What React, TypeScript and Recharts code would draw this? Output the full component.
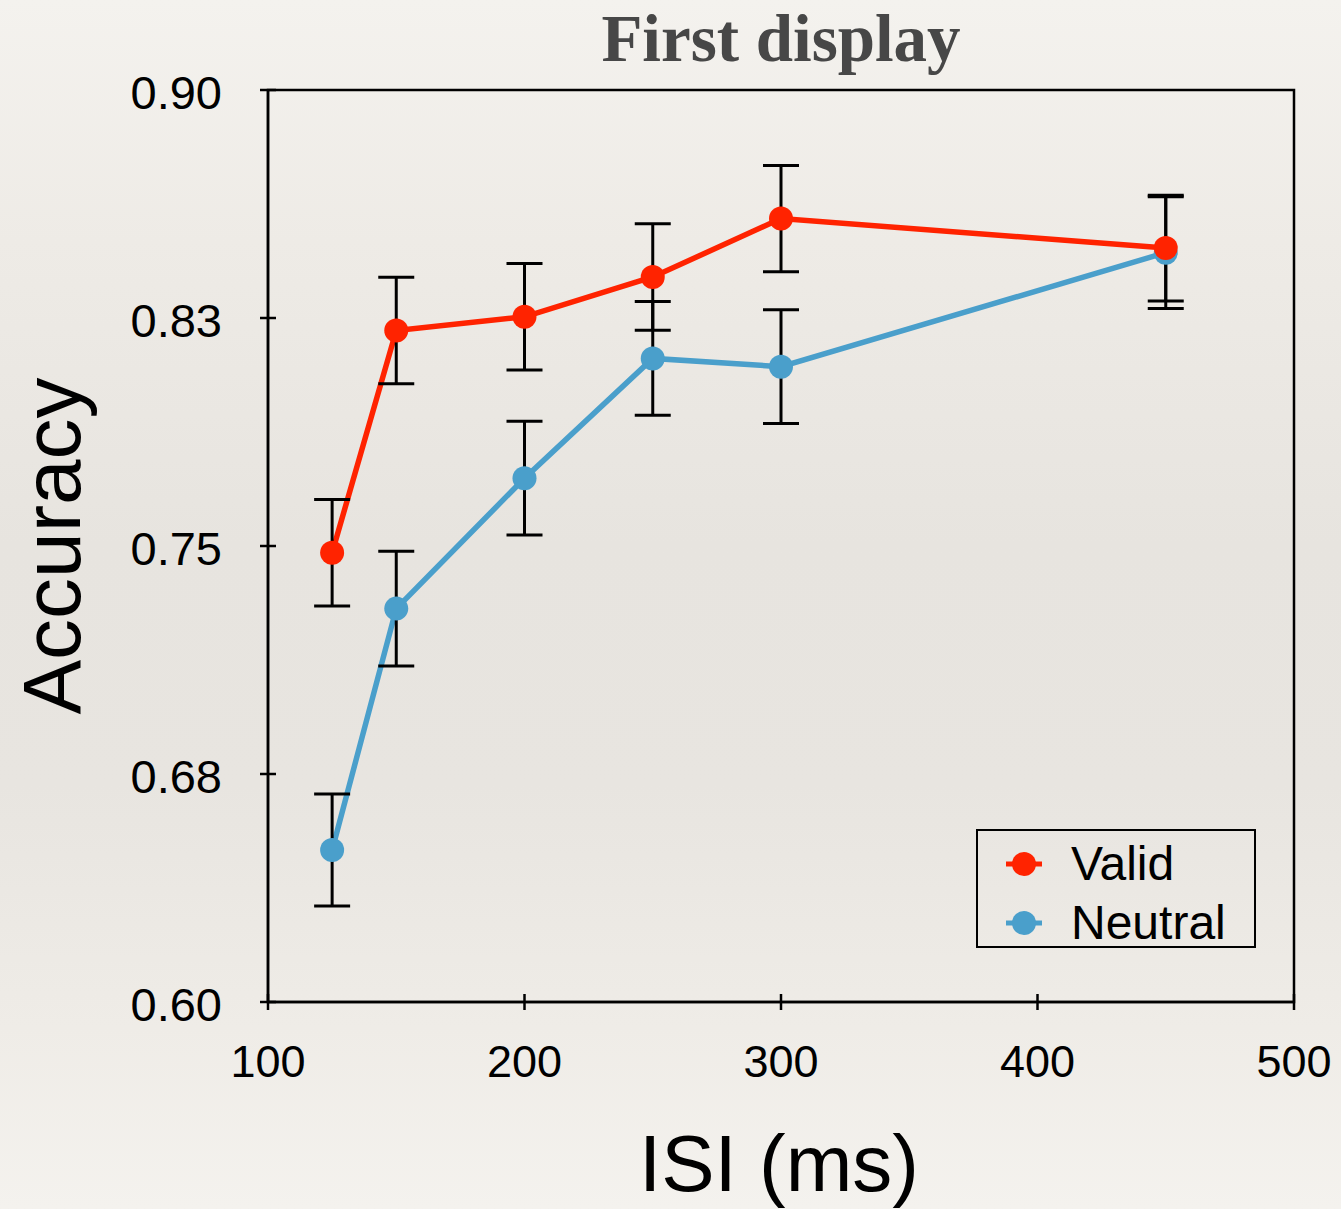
import React from 'react';
import { ComposedChart, Line, XAxis, YAxis, ErrorBar, ReferenceArea, Legend } from 'recharts';

const isiValues = [125, 150, 200, 250, 300, 450];
const validAcc = [0.7478, 0.8209, 0.8254, 0.8385, 0.8577, 0.848];
const validErr = [0.0175, 0.0175, 0.0175, 0.0175, 0.0175, 0.0174];
const neutralAcc = [0.65, 0.7294, 0.7723, 0.8117, 0.809, 0.8465];
const neutralErr = [0.0184, 0.0189, 0.0187, 0.0187, 0.0187, 0.0184];

const xTicks = [100, 200, 300, 400, 500];
const yTicks = [0.6, 0.675, 0.75, 0.825, 0.9];
const yTickLabels = ['0.60', '0.68', '0.75', '0.83', '0.90'];

const seriesNames = ['Valid', 'Neutral'];
const VALID_COLOR = '#FF2300';
const NEUTRAL_COLOR = '#4A9FCB';

const data = isiValues.map((isi, i) => ({
  isi,
  valid: validAcc[i],
  validErr: validErr[i],
  neutral: neutralAcc[i],
  neutralErr: neutralErr[i],
}));

const FONT = '"Liberation Sans", Arial, Helvetica, sans-serif';

const YTick = (props: any) => {
  const { x, y, payload, index } = props;
  return (
    <g>
      <line x1={x - 8} x2={x + 8} y1={y} y2={y} stroke="#000" strokeWidth={2.5} />
      <text x={x - 46} y={y + 2} textAnchor="end" dominantBaseline="central" fontFamily={FONT} fontSize={47} fill="#000">
        {yTickLabels[index] ?? String(payload.value)}
      </text>
    </g>
  );
};

const XTick = (props: any) => {
  const { x, y, payload } = props;
  return (
    <g>
      <line x1={x} x2={x} y1={y - 8} y2={y + 8} stroke="#000" strokeWidth={2.5} />
      <text x={x} y={y + 59} textAnchor="middle" dominantBaseline="central" fontFamily={FONT} fontSize={45} fill="#000">
        {payload.value}
      </text>
    </g>
  );
};

const LegendContent = () => {
  const colors = [VALID_COLOR, NEUTRAL_COLOR];
  const rowsY = [33, 92];
  return (
    <div style={{ position: 'relative', width: 280, height: 119, border: '2px solid #000', boxSizing: 'border-box' }}>
      {seriesNames.map((name, i) => (
        <React.Fragment key={name}>
          <svg style={{ position: 'absolute', left: 24, top: rowsY[i] - 14 }} width={44} height={28}>
            <line x1={4} x2={40} y1={14} y2={14} stroke={colors[i]} strokeWidth={5} />
            <circle cx={22} cy={14} r={12} fill={colors[i]} />
          </svg>
          <div
            style={{
              position: 'absolute',
              left: 93,
              top: rowsY[i] - 28,
              fontFamily: FONT,
              fontSize: 48,
              lineHeight: '56px',
              color: '#000',
              whiteSpace: 'nowrap',
            }}
          >
            {name}
          </div>
        </React.Fragment>
      ))}
    </div>
  );
};

export default function App() {
  return (
    <div
      style={{
        position: 'absolute',
        left: 0,
        top: 0,
        width: 1341,
        height: 1209,
        background:
          'linear-gradient(to bottom, #F4F2EE 0%, #EEEBE6 20%, #E7E4DF 45%, #E8E5E0 65%, #EFECE7 85%, #F4F2EE 100%)',
        overflow: 'hidden',
      }}
    >
      <ComposedChart
        width={1341}
        height={1209}
        data={data}
        margin={{ top: 90, right: 47, bottom: 107, left: 168 }}
      >
        <XAxis
          dataKey="isi"
          type="number"
          domain={[100, 500]}
          ticks={xTicks}
          allowDataOverflow
          height={100}
          tickSize={0}
          tickMargin={0}
          tickLine={false}
          axisLine={{ stroke: '#000', strokeWidth: 2.5 }}
          tick={<XTick />}
          interval={0}
        />
        <YAxis
          type="number"
          domain={[0.6, 0.9]}
          ticks={yTicks}
          allowDataOverflow
          width={100}
          tickSize={0}
          tickMargin={0}
          tickLine={false}
          axisLine={{ stroke: '#000', strokeWidth: 2.5 }}
          tick={<YTick />}
          interval={0}
        />
        <ReferenceArea x1={100} x2={500} y1={0.6} y2={0.9} fill="none" stroke="#000" strokeWidth={2.5} ifOverflow="visible" />
        <Line
          dataKey="neutral"
          name="Neutral"
          stroke={NEUTRAL_COLOR}
          strokeWidth={5.5}
          dot={{ r: 12, fill: NEUTRAL_COLOR, stroke: 'none' }}
          activeDot={false}
          isAnimationActive={false}
        />
        <Line
          dataKey="valid"
          name="Valid"
          stroke={VALID_COLOR}
          strokeWidth={5.5}
          dot={{ r: 12, fill: VALID_COLOR, stroke: 'none' }}
          activeDot={false}
          isAnimationActive={false}
        />
        <Line dataKey="neutral" stroke="none" dot={false} activeDot={false} legendType="none" isAnimationActive={false}>
          <ErrorBar dataKey="neutralErr" direction="y" width={18} stroke="#000" strokeWidth={3} isAnimationActive={false} />
        </Line>
        <Line dataKey="valid" stroke="none" dot={false} activeDot={false} legendType="none" isAnimationActive={false}>
          <ErrorBar dataKey="validErr" direction="y" width={18} stroke="#000" strokeWidth={3} isAnimationActive={false} />
        </Line>
        <Legend
          layout="vertical"
          align="center"
          verticalAlign="middle"
          content={<LegendContent />}
          wrapperStyle={{ left: 976, top: 829, width: 280, height: 119 }}
        />
      </ComposedChart>
      <div
        style={{
          position: 'absolute',
          left: 0,
          top: 0,
          width: 1341,
          height: 1209,
          pointerEvents: 'none',
        }}
      >
        <svg width={1341} height={1209} style={{ position: 'absolute', left: 0, top: 0 }}>
          <text x={781} y={61} textAnchor="middle" fontFamily='"Liberation Serif", "Times New Roman", serif' fontWeight="bold" fontSize={67} fill="#474747">
            First display
          </text>
          <text x={80} y={546} textAnchor="middle" fontFamily={FONT} fontSize={82} fill="#000" transform="rotate(-90 80 546)">
            Accuracy
          </text>
          <text x={779} y={1191} textAnchor="middle" fontFamily={FONT} fontSize={80} fill="#000">
            ISI (ms)
          </text>
        </svg>
      </div>
    </div>
  );
}
